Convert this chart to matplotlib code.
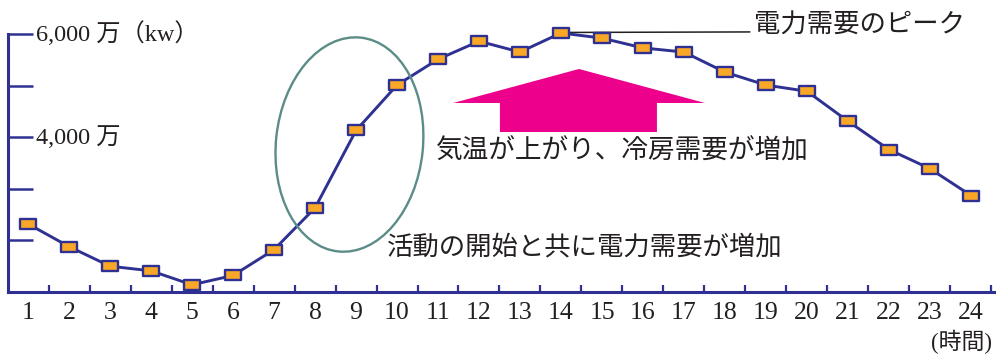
"""Daily electricity demand curve (hourly, 万kW) with annotations."""

import matplotlib

matplotlib.use("Agg")
import matplotlib.pyplot as plt
from matplotlib.patches import Ellipse, Polygon
from matplotlib.path import Path
from matplotlib.transforms import IdentityTransform

plt.rcParams["font.family"] = ["Noto Sans CJK JP", "DejaVu Sans"]

# hourly demand, 万kW
HOURS = list(range(1, 25))
DEMAND = [2320, 1880, 1500, 1410, 1140, 1320, 1820, 2630, 4130, 5010,
          5510, 5860, 5650, 6020, 5920, 5730, 5650, 5260, 5010, 4890,
          4310, 3760, 3390, 2870]
Y_LABELS = {6000: "6,000 万（kw）", 4000: "4,000 万"}
PEAK_TEXT = "電力需要のピーク"
HOT_TEXT = "気温が上がり、冷房需要が増加"
MORNING_TEXT = "活動の開始と共に電力需要が増加"
HOUR_UNIT = "(時間)"

NAVY = "#2E3192"
ORANGE = "#F9A727"
PINK = "#EC008C"
TEAL = "#5B8C87"
INK = "#231F20"

SERIF = ["Liberation Serif", "Noto Sans CJK JP"]


def main() -> None:
    fig = plt.figure(figsize=(9.96, 3.56), dpi=100)
    ax = fig.add_axes((8 / 996, 64 / 356, 988 / 996, 258 / 356))
    ax.set_xlim(0.512, 24.61)
    ax.set_ylim(1000, 6000)

    for side in ("top", "right"):
        ax.spines[side].set_visible(False)
    for side in ("left", "bottom"):
        ax.spines[side].set_color(NAVY)
        ax.spines[side].set_linewidth(2.2)

    # x: labels on the hours, small inward ticks between them
    ax.set_xticks(HOURS)
    ax.set_xticklabels([str(h) for h in HOURS], family=SERIF, fontsize=18.5,
                       color=INK)
    ax.tick_params(axis="x", which="major", length=0, pad=7)
    ax.set_xticks([h + 0.5 for h in HOURS], minor=True)
    ax.tick_params(axis="x", which="minor", direction="in", length=5,
                   width=1.6, color=NAVY)

    # y: long inward ticks, labels drawn inside the plot
    ax.set_yticks([2000, 3000, 4000, 5000, 6000])
    ax.set_yticklabels([])
    ax.tick_params(axis="y", direction="in", length=18, width=1.8,
                   color=NAVY)
    for v, s in Y_LABELS.items():
        ax.text(1.2, v, s, family=SERIF, fontsize=17.5, color=INK,
                ha="left", va="center")

    # demand curve
    rect = Path([(-1, -0.62), (1, -0.62), (1, 0.62), (-1, 0.62), (-1, -0.62)],
                [Path.MOVETO, Path.LINETO, Path.LINETO, Path.LINETO,
                 Path.CLOSEPOLY])
    ax.plot(HOURS, DEMAND, color=NAVY, linewidth=2.1, marker=rect,
            markersize=11, markerfacecolor=ORANGE, markeredgecolor=NAVY,
            markeredgewidth=1.7, clip_on=False, zorder=4)

    # peak callout
    ax.plot([14, 18.6], [6030, 6040], color=INK, linewidth=1.1,
            clip_on=False, zorder=3)
    ax.text(18.7, 6170, PEAK_TEXT, fontsize=19, color=INK, ha="left",
            va="center")

    # pink arrow
    arrow = Polygon([(14.44, 5322), (17.51, 4663), (16.34, 4663),
                     (16.34, 4101), (12.51, 4101), (12.51, 4663),
                     (11.37, 4663)], closed=True, facecolor=PINK,
                    edgecolor="none", zorder=2)
    ax.add_patch(arrow)
    ax.text(10.95, 3740, HOT_TEXT, fontsize=19.2, color=INK, ha="left",
            va="center")

    # morning ramp ellipse (sized in pixels so it keeps its shape)
    cx, cy = ax.transData.transform((8.84, 3858))
    ell = Ellipse((cx, cy), 147, 215, angle=-6, fill=False, edgecolor=TEAL,
                  linewidth=1.7, transform=IdentityTransform(), zorder=3)
    fig.add_artist(ell)
    ax.text(9.76, 1880, MORNING_TEXT, fontsize=19, color=INK, ha="left",
            va="center")

    fig.text(0.996, 0.04, HOUR_UNIT, family=SERIF, fontsize=16.5, color=INK,
             ha="right", va="center")

    fig.savefig("out.png", dpi=100)
    plt.close(fig)


if __name__ == "__main__":
    main()
